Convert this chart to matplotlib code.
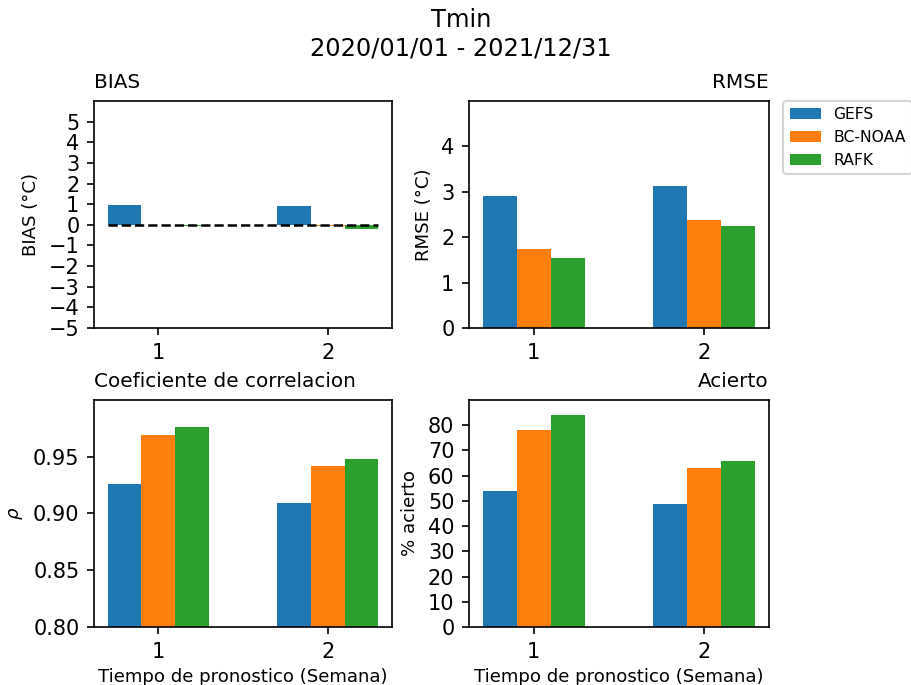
import matplotlib
matplotlib.use('Agg')
import matplotlib.pyplot as plt
import numpy as np

# Datos
semanas = [1, 2]
modelos = ['GEFS', 'BC-NOAA', 'RAFK']
colores = ['#1f77b4', '#ff7f0e', '#2ca02c']

bias = {'GEFS': [0.95, 0.90], 'BC-NOAA': [-0.02, -0.07], 'RAFK': [-0.07, -0.20]}
rmse = {'GEFS': [2.91, 3.13], 'BC-NOAA': [1.74, 2.38], 'RAFK': [1.54, 2.24]}
corr = {'GEFS': [0.926, 0.909], 'BC-NOAA': [0.969, 0.9415], 'RAFK': [0.976, 0.948]}
acierto = {'GEFS': [54.1, 48.8], 'BC-NOAA': [77.9, 63.2], 'RAFK': [84.0, 65.9]}

fs_tick = 10
fs_label = 8.7
fs_title = 9.6

fig = plt.figure(figsize=(911 / 150, 685 / 150), dpi=150)

ax1 = fig.add_axes([0.1032, 0.5212, 0.3271, 0.3314])
ax2 = fig.add_axes([0.5148, 0.5212, 0.3288, 0.3314])
ax3 = fig.add_axes([0.1032, 0.0847, 0.3271, 0.3314])
ax4 = fig.add_axes([0.5148, 0.0847, 0.3288, 0.3314])

x = np.array(semanas)
ancho = 0.2


def barras(ax, datos):
    for i, m in enumerate(modelos):
        ax.bar(x + (i - 1) * ancho, datos[m], ancho, color=colores[i], label=m)
    ax.set_xticks(semanas)
    ax.tick_params(labelsize=fs_tick)


barras(ax1, bias)
ax1.plot([0.7, 2.3], [0, 0], 'k--', linewidth=1.2)
ax1.set_ylim(-5, 6)
ax1.set_yticks(np.arange(-5, 6, 1))
ax1.set_ylabel('BIAS (°C)', fontsize=fs_label)
ax1.set_title('BIAS', loc='left', fontsize=fs_title)

barras(ax2, rmse)
ax2.plot([0.7, 2.3], [0, 0], 'k--', linewidth=0.6, alpha=0.3)
ax2.set_ylim(0, 5)
ax2.set_yticks([0, 1, 2, 3, 4])
ax2.set_ylabel('RMSE (°C)', fontsize=fs_label)
ax2.set_title('RMSE', loc='right', fontsize=fs_title)
ax2.legend(loc='upper left', bbox_to_anchor=(1.05, 1.0), borderaxespad=0, fontsize=7.5)

barras(ax3, corr)
ax3.set_ylim(0.8, 1.0)
ax3.set_yticks([0.80, 0.85, 0.90, 0.95])
ax3.set_ylabel(r'$\rho$', fontsize=fs_label)
ax3.set_xlabel('Tiempo de pronostico (Semana)', fontsize=fs_label, labelpad=3)
ax3.set_title('Coeficiente de correlacion', loc='left', fontsize=fs_title)

barras(ax4, acierto)
ax4.plot([0.7, 2.3], [0, 0], 'k--', linewidth=0.6, alpha=0.3)
ax4.set_ylim(0, 90)
ax4.set_yticks(np.arange(0, 90, 10))
ax4.set_ylabel('% acierto', fontsize=fs_label)
ax4.set_xlabel('Tiempo de pronostico (Semana)', fontsize=fs_label, labelpad=3)
ax4.set_title('Acierto', loc='right', fontsize=fs_title)

fig.suptitle('Tmin\n2020/01/01 - 2021/12/31', x=0.506, y=0.988, fontsize=11.6)

fig.savefig('out.png', dpi=150)
